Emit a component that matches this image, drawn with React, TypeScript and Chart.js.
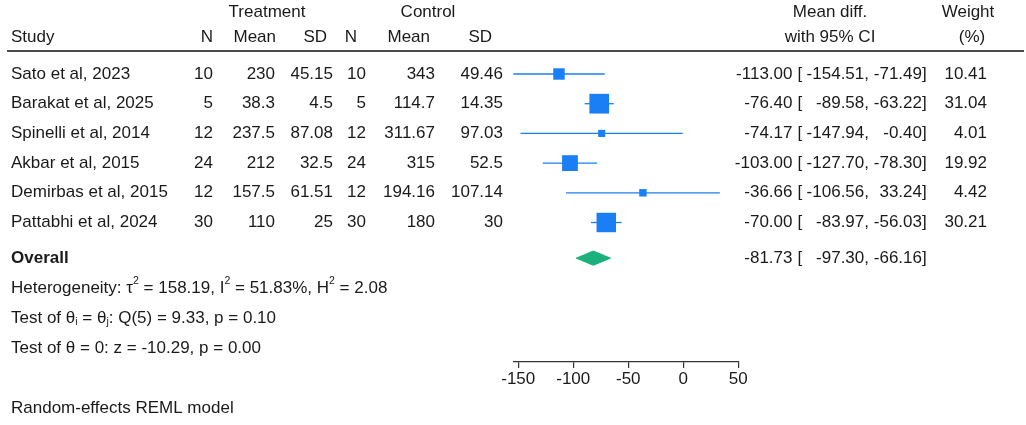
import React, { useEffect, useRef } from "react";
import { Chart, registerables } from "chart.js";

Chart.register(...registerables);

// ---------- data ----------
const studies = [
  "Sato et al, 2023",
  "Barakat et al, 2025",
  "Spinelli et al, 2014",
  "Akbar et al, 2015",
  "Demirbas et al, 2015",
  "Pattabhi et al, 2024",
];
const treatN = ["10", "5", "12", "24", "12", "30"];
const treatMean = ["230", "38.3", "237.5", "212", "157.5", "110"];
const treatSD = ["45.15", "4.5", "87.08", "32.5", "61.51", "25"];
const ctrlN = ["10", "5", "12", "24", "12", "30"];
const ctrlMean = ["343", "114.7", "311.67", "315", "194.16", "180"];
const ctrlSD = ["49.46", "14.35", "97.03", "52.5", "107.14", "30"];
const meanDiff = [-113.0, -76.4, -74.17, -103.0, -36.66, -70.0];
const ciLower = [-154.51, -89.58, -147.94, -127.7, -106.56, -83.97];
const ciUpper = [-71.49, -63.22, -0.4, -78.3, 33.24, -56.03];
const weights = [10.41, 31.04, 4.01, 19.92, 4.42, 30.21];
const overallEst = -81.73;
const overallLower = -97.3;
const overallUpper = -66.16;
const xTicks = [-150, -100, -50, 0, 50];
const xMin = -154.51;
const xMax = 50;
const tau2 = "158.19";
const iSq = "51.83%";
const hSq = "2.08";
const qDf = "5";
const qVal = "9.33";
const qP = "0.10";
const zVal = "-10.29";
const zP = "0.00";
const modelNote = "Random-effects REML model";

// row positions (in row units on the y scale)
const studyRows = [0, 1, 2, 3, 4, 5];
const overallRow = 6.2;
const statRows = [7.23, 8.23, 9.23];

// ---------- style ----------
const FONT = "'Liberation Sans', Arial, Helvetica, sans-serif";
const FS = 17;
const TEXT = "#1a1a1a";
const BLUE = "#1a7ff5";
const GREEN = "#1bb07c";
const SQUARE_SCALE = 3.54; // px per sqrt(weight %)
const DIAMOND_HALF = 0.24; // rows

function drawRich(ctx: CanvasRenderingContext2D, parts: { t: string; s?: string }[], x: number, y: number) {
  let cx = x;
  for (const p of parts) {
    const size = p.s ? FS * 0.62 : FS;
    ctx.font = `${size}px ${FONT}`;
    ctx.textAlign = "left";
    const dy = p.s === "sup" ? -FS * 0.42 : p.s === "sub" ? FS * 0.24 : 0;
    ctx.fillText(p.t, cx, y + dy);
    cx += ctx.measureText(p.t).width;
  }
}

const textPlugin = {
  id: "forestText",
  afterDraw(chart: any) {
    const ctx: CanvasRenderingContext2D = chart.ctx;
    const ys = chart.scales.y;
    ctx.save();
    ctx.fillStyle = TEXT;
    ctx.textBaseline = "middle";
    const put = (t: string, x: number, y: number, align: CanvasTextAlign = "left", weight = "normal") => {
      ctx.font = `${weight} ${FS}px ${FONT}`;
      ctx.textAlign = align;
      ctx.fillText(t, x, y);
    };

    // header
    put("Treatment", 267, 12, "center");
    put("Control", 428, 12, "center");
    put("Mean diff.", 830, 12, "center");
    put("Weight", 968, 12, "center");
    put("Study", 11, 37, "left");
    put("N", 213, 37, "right");
    put("Mean", 276, 37, "right");
    put("SD", 327, 37, "right");
    put("N", 357, 37, "right");
    put("Mean", 430, 37, "right");
    put("SD", 492, 37, "right");
    put("with 95% CI", 830, 37, "center");
    put("(%)", 972, 37, "center");

    ctx.strokeStyle = "#111";
    ctx.lineWidth = 1.6;
    ctx.beginPath();
    ctx.moveTo(7, 51);
    ctx.lineTo(1024, 51);
    ctx.stroke();

    const effCols = (est: number, lo: number, hi: number, y: number) => {
      put(est.toFixed(2), 792.5, y, "right");
      put("[", 797.5, y, "left");
      put(lo.toFixed(2) + ",", 869, y, "right");
      put(hi.toFixed(2), 922, y, "right");
      put("]", 922, y, "left");
    };

    studies.forEach((s, i) => {
      const y = ys.getPixelForValue(studyRows[i]);
      put(s, 11, y, "left");
      put(treatN[i], 213, y, "right");
      put(treatMean[i], 275, y, "right");
      put(treatSD[i], 333, y, "right");
      put(ctrlN[i], 366, y, "right");
      put(ctrlMean[i], 435, y, "right");
      put(ctrlSD[i], 503, y, "right");
      effCols(meanDiff[i], ciLower[i], ciUpper[i], y);
      put(weights[i].toFixed(2), 987, y, "right");
    });

    const yo = ys.getPixelForValue(overallRow);
    put("Overall", 11, yo, "left", "bold");
    effCols(overallEst, overallLower, overallUpper, yo);

    drawRich(
      ctx,
      [
        { t: "Heterogeneity: \u03C4" },
        { t: "2", s: "sup" },
        { t: ` = ${tau2}, I` },
        { t: "2", s: "sup" },
        { t: ` = ${iSq}, H` },
        { t: "2", s: "sup" },
        { t: ` = ${hSq}` },
      ],
      11,
      ys.getPixelForValue(statRows[0])
    );
    drawRich(
      ctx,
      [
        { t: "Test of \u03B8" },
        { t: "i", s: "sub" },
        { t: " = \u03B8" },
        { t: "j", s: "sub" },
        { t: `: Q(${qDf}) = ${qVal}, p = ${qP}` },
      ],
      11,
      ys.getPixelForValue(statRows[1])
    );
    drawRich(ctx, [{ t: `Test of \u03B8 = 0: z = ${zVal}, p = ${zP}` }], 11, ys.getPixelForValue(statRows[2]));

    put(modelNote, 11, 408, "left");
    ctx.restore();
  },
};

export default function App() {
  const ref = useRef<HTMLCanvasElement | null>(null);

  useEffect(() => {
    document.body.style.margin = "0";
    const canvas = ref.current!;
    const ciSets = studies.map((s, i) => ({
      label: s + " CI",
      data: [
        { x: ciLower[i], y: studyRows[i] },
        { x: ciUpper[i], y: studyRows[i] },
      ],
      showLine: true,
      borderColor: BLUE,
      borderWidth: 1.3,
      pointRadius: 0,
      order: 2,
    }));
    const squares = {
      label: "Mean difference",
      data: meanDiff.map((v, i) => ({ x: v, y: studyRows[i] })),
      pointStyle: "rect",
      pointRadius: (c: any) => (SQUARE_SCALE * Math.sqrt(weights[c.dataIndex])) / Math.SQRT2,
      backgroundColor: BLUE,
      borderWidth: 0,
      showLine: false,
      order: 1,
    };
    const diamond = {
      label: "Overall",
      data: [
        { x: overallLower, y: overallRow },
        { x: overallEst, y: overallRow - DIAMOND_HALF },
        { x: overallUpper, y: overallRow },
        { x: overallEst, y: overallRow + DIAMOND_HALF },
        { x: overallLower, y: overallRow },
      ],
      showLine: true,
      fill: "shape",
      backgroundColor: GREEN,
      borderColor: GREEN,
      borderWidth: 1,
      pointRadius: 0,
      tension: 0,
      order: 1,
    };

    const chart = new Chart(canvas, {
      type: "scatter",
      data: { datasets: [...ciSets, squares, diamond] as any },
      plugins: [textPlugin],
      options: {
        animation: false,
        responsive: false,
        devicePixelRatio: 1,
        clip: false as any,
        layout: { padding: { left: 513.3, right: 1026 - 738.3, top: 59.15, bottom: 0 } },
        plugins: { legend: { display: false }, tooltip: { enabled: false }, title: { display: false } },
        scales: {
          x: {
            type: "linear",
            min: xMin,
            max: xMax,
            afterBuildTicks: (scale: any) => {
              scale.ticks = xTicks.map((v) => ({ value: v }));
            },
            afterFit: (scale: any) => {
              scale.height = 425 - 362;
            },
            grid: { display: true, drawOnChartArea: false, drawTicks: true, tickLength: 6, color: "#333", lineWidth: 1.2 },
            border: { display: true, color: "#333", width: 1.3 },
            ticks: {
              color: TEXT,
              font: { family: FONT, size: FS },
              padding: 1,
              maxRotation: 0,
              autoSkip: false,
              callback: (v: any) => String(v),
            },
          },
          y: {
            type: "linear",
            display: false,
            reverse: true,
            min: -0.5,
            max: 9.697,
          },
        },
      },
    } as any);
    return () => chart.destroy();
  }, []);

  return (
    <div style={{ position: "fixed", left: 0, top: 0, width: 1026, height: 425, background: "#fff" }}>
      <canvas ref={ref} width={1026} height={425} />
    </div>
  );
}
